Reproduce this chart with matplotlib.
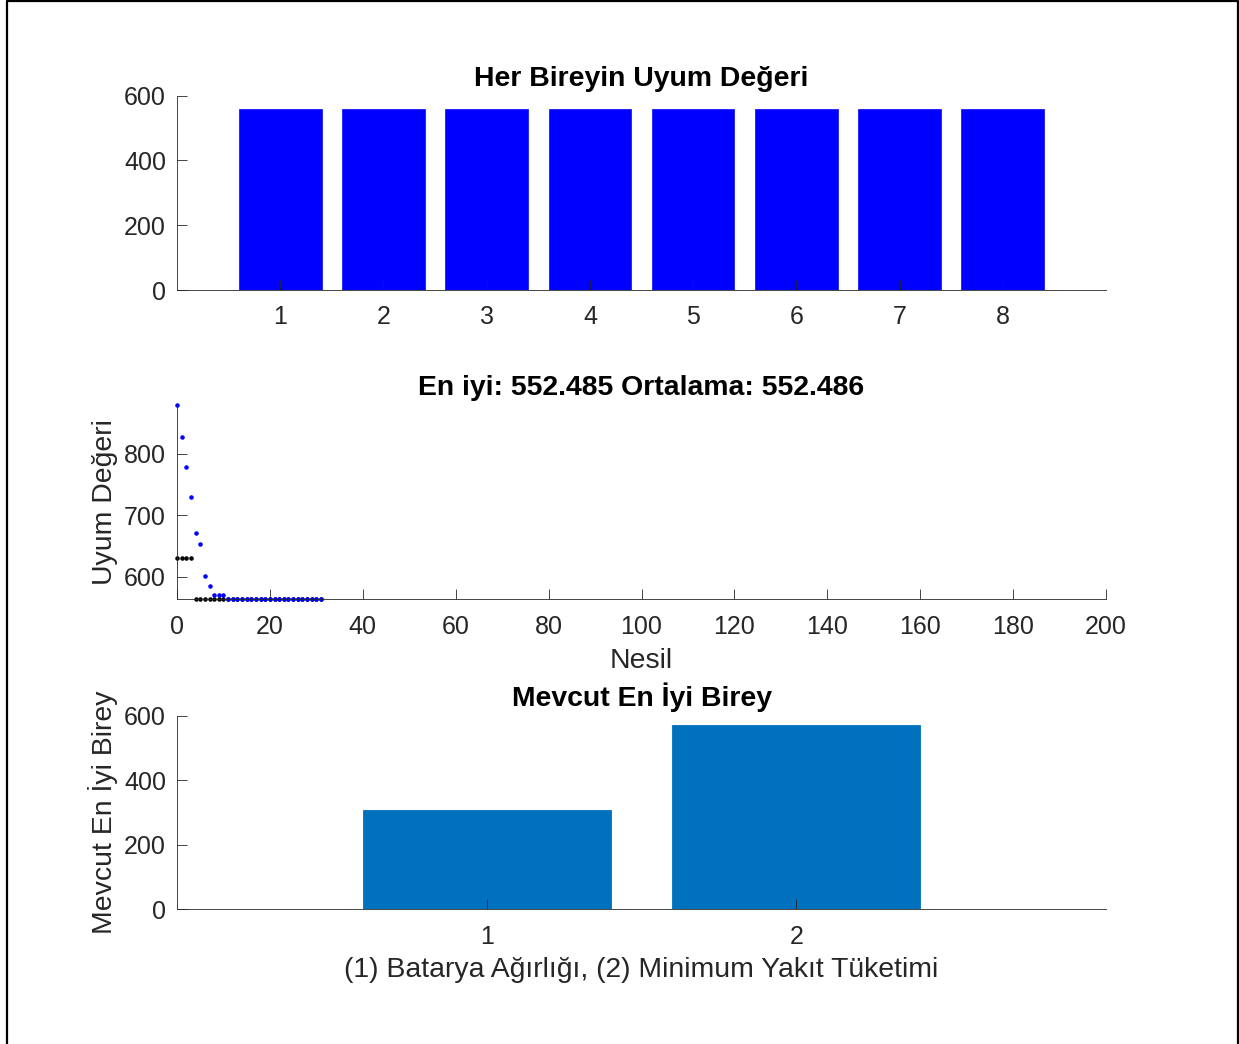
import numpy as np
import matplotlib
matplotlib.use("Agg")
import matplotlib.pyplot as plt
from matplotlib.lines import Line2D

plt.rcParams['font.family'] = ['Liberation Sans', 'DejaVu Sans']

# Fitness of each individual in the current population
individuals = [1, 2, 3, 4, 5, 6, 7, 8]
individual_fitness = [560, 560, 560, 560, 560, 560, 560, 560]

# Best and mean fitness per generation
generations = list(range(0, 32))
best_fitness = [630.5, 630.5, 630.5, 630.5] + [563.6] * 28
mean_fitness = [879.2, 827.7, 778.8, 729.3, 671.2, 653.8, 601.6, 585.3,
                570.7, 570.7, 570.7] + [563.6] * 21

# Current best individual
variables = [1, 2]
best_individual = [307.7, 571.0]

best_value = 552.485
mean_value = 552.486

axis_color = '#262626'
tick_fs = 18
title_fs = 20.4
label_fs = 20.4

W, H = 1239, 1044
fig = plt.figure(figsize=(W / 100, H / 100), dpi=100)


def px_axes(x0, x1, ytop, ybot):
    return fig.add_axes([x0 / W, 1 - ybot / H, (x1 - x0) / W, (ybot - ytop) / H])


def style(ax):
    for s in ('top', 'right'):
        ax.spines[s].set_visible(False)
    for s in ('left', 'bottom'):
        ax.spines[s].set_color(axis_color)
        ax.spines[s].set_linewidth(0.6)
    ax.tick_params(direction='in', length=7, width=0.6, colors=axis_color,
                   labelsize=tick_fs, labelcolor=axis_color)
    ax.tick_params(axis='x', pad=11)
    ax.tick_params(axis='y', pad=8)


# Top: fitness of each individual
ax1 = px_axes(177, 1106, 95.7, 290)
ax1.bar(individuals, individual_fitness, width=0.8, color='#0000FF',
        edgecolor='#1a1aff', linewidth=0.6)
ax1.set_xlim(0, 9)
ax1.set_ylim(0, 600)
ax1.set_xticks(individuals)
ax1.set_yticks([0, 200, 400, 600])
style(ax1)
ax1.set_title('Her Bireyin Uyum Değeri', fontsize=title_fs, fontweight='bold',
              color='black', pad=7)

# Middle: best and mean fitness over generations
ax2 = px_axes(177, 1106, 405, 599.3)
ax2.plot(generations, best_fitness, linestyle='none', marker='.',
         markersize=4.5, color='black')
ax2.plot(generations, mean_fitness, linestyle='none', marker='.',
         markersize=4.5, color='#0000FF')
ax2.set_xlim(0, 200)
ax2.set_ylim(min(best_fitness + mean_fitness), max(best_fitness + mean_fitness))
ax2.set_xticks(range(0, 201, 20))
ax2.set_yticks([600, 700, 800])
style(ax2)
for ln in ax2.lines:
    ln.set_clip_on(False)
ax2.set_title(f'En iyi: {best_value} Ortalama: {mean_value}', fontsize=title_fs,
              fontweight='bold', color='black', pad=7)
ax2.set_xlabel('Nesil', fontsize=label_fs, color=axis_color, labelpad=7)
ax2.set_ylabel('Uyum Değeri', fontsize=label_fs, color=axis_color, labelpad=4)

# Bottom: current best individual
ax3 = px_axes(177, 1106, 715.7, 909.3)
ax3.bar(variables, best_individual, width=0.8, color='#0072BD',
        edgecolor='#0072BD', linewidth=0.6)
ax3.set_xlim(0, 3)
ax3.set_ylim(0, 600)
ax3.set_xticks(variables)
ax3.set_yticks([0, 200, 400, 600])
style(ax3)
ax3.set_title('Mevcut En İyi Birey', fontsize=title_fs, fontweight='bold',
              color='black', pad=7)
ax3.set_xlabel('(1) Batarya Ağırlığı, (2) Minimum Yakıt Tüketimi',
               fontsize=label_fs, color=axis_color, labelpad=6)
ax3.set_ylabel('Mevcut En İyi Birey', fontsize=label_fs, color=axis_color,
               labelpad=4)

# Figure frame
frame = Line2D([6.5 / W, 6.5 / W, 1238 / W, 1238 / W],
               [-0.05, 1 - 1 / H, 1 - 1 / H, -0.05],
               transform=fig.transFigure, color='black', linewidth=1.6)
fig.add_artist(frame)

fig.savefig('out.png', dpi=100, facecolor='white')
